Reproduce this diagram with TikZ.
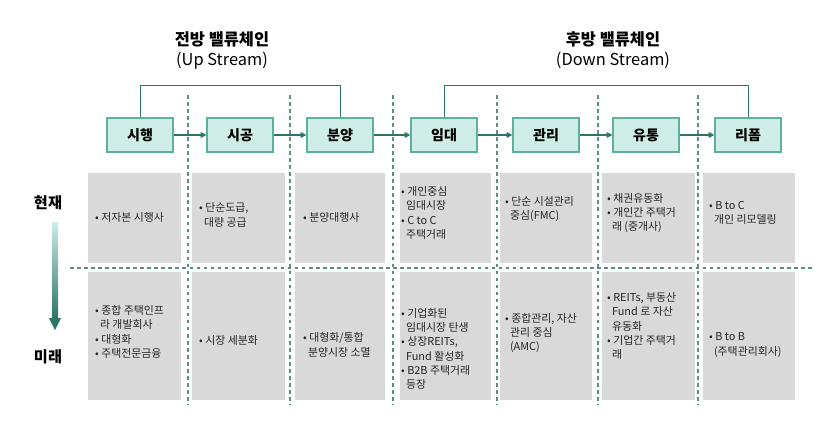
\documentclass[tikz,border=0pt]{standalone}
\usepackage{fontspec}
\setmainfont{Noto Sans CJK KR}
\usetikzlibrary{arrows.meta}
\definecolor{hdrfill}{HTML}{CDEDE6}
\definecolor{hdrdraw}{HTML}{5FAF9F}
\definecolor{grayfill}{HTML}{D9D9D9}
\definecolor{dline}{HTML}{5E8F86}
\definecolor{conn}{HTML}{2E7566}
\tikzset{
 hdr/.style={draw=hdrdraw,line width=1pt,fill=hdrfill,minimum width=66*0.03cm,minimum height=34*0.03cm,font=\fontsize{12}{14}\selectfont\bfseries,inner sep=0pt},
 txt/.style={font=\fontsize{9.3}{12.2}\selectfont,align=left,text=black!85},
 dl/.style={draw=dline,dashed,line width=1pt},
 arr/.style={draw=conn,line width=1pt,-{Triangle[length=5pt,width=5pt]}},
 br/.style={draw=conn,line width=0.8pt},
 ttl/.style={font=\fontsize{14}{17}\selectfont\bfseries,align=center},
}
\begin{document}
\begin{tikzpicture}[x=0.03cm,y=-0.03cm]
\useasboundingbox (0,0) rectangle (821,421);
% titles
\node[ttl] (t1) at (222,50) {전방 밸류체인\\\mdseries(Up Stream)};
\node[ttl] (t2) at (613,50) {후방 밸류체인\\\mdseries(Down Stream)};
% gray cells
\foreach \x/\w in {88/93,192/93,295/90,400/91,500/92,602/93,703/92}{
 \fill[grayfill] (\x,173) rectangle ++(\w,90);
 \fill[grayfill] (\x,272) rectangle ++(\w,128);
}
% dashed lines
\foreach \x in {188,290,393,497,598,698}{\draw[dl] (\x,95) -- (\x,405);}
\draw[dl] (70,268) -- (812,268);
% headers
\node[hdr] (h1) at (140,135) {시행};
\node[hdr] (h2) at (240,135) {시공};
\node[hdr] (h3) at (340,135) {분양};
\node[hdr] (h4) at (444,135) {임대};
\node[hdr] (h5) at (546,135) {관리};
\node[hdr] (h6) at (646,135) {유통};
\node[hdr] (h7) at (748,135) {리폼};
\foreach \a/\b in {h1/h2,h2/h3,h3/h4,h4/h5,h5/h6,h6/h7}{\draw[arr] (\a.east) -- (\b.west);}
% brackets
\coordinate (b1) at (140,85); \coordinate (b2) at (340,85);
\draw[br] (h1.north) -- (b1) -- (b2) -- (h3.north);
\coordinate (b3) at (444,85); \coordinate (b4) at (748,85);
\draw[br] (h4.north) -- (b3) -- (b4) -- (h7.north);
% row labels
\node[font=\fontsize{13}{15}\selectfont\bfseries] (now) at (48,203) {현재};
\node[font=\fontsize{13}{15}\selectfont\bfseries] (fut) at (48,357) {미래};
\shade[top color=hdrfill,bottom color=conn] (52,222) rectangle (58,318);
\coordinate (ar) at (55,330);
\fill[conn] (49,318) -- (61,318) -- (ar) -- cycle;
% row 1 text
\node[txt,anchor=west] (c11) at (91,217) {• 저자본 시행사};
\node[txt,anchor=west] (c12) at (195,215) {• 단순도급,\\\ \ 대량 공급};
\node[txt,anchor=west] (c13) at (299,217) {• 분양대행사};
\node[txt,anchor=west] (c14) at (397,213) {• 개인중심\\\ \ 임대시장\\• C to C\\\ \ 주택거래};
\node[txt,anchor=west] (c15) at (501,209) {• 단순 시설관리\\\ \ 중심(FMC)};
\node[txt,anchor=west] (c16) at (603,213) {• 채권유동화\\• 개인간 주택거\\\ \ 래 (중개사)};
\node[txt,anchor=west] (c17) at (705,213) {• B to C\\\ \ 개인 리모델링};
% row 2 text
\node[txt,anchor=west] (c21) at (91,332) {• 종합 주택인프\\\ \ 라 개발회사\\• 대형화\\• 주택전문금융};
\node[txt,anchor=west] (c22) at (195,340) {• 시장 세분화};
\node[txt,anchor=west] (c23) at (299,345) {• 대형화/통합\\\ \ 분양시장 소멸};
\node[txt,anchor=west] (c24) at (397,349) {• 기업화된\\\ \ 임대시장 탄생\\• 상장REITs,\\\ \ Fund 활성화\\• B2B 주택거래\\\ \ 등장};
\node[txt,anchor=west] (c25) at (501,333) {• 종합관리, 자산\\\ \ 관리 중심\\\ \ (AMC)};
\node[txt,anchor=west] (c26) at (603,326) {• REITs, 부동산\\\ \ Fund 로 자산\\\ \ 유동화\\• 기업간 주택거\\\ \ 래};
\node[txt,anchor=west] (c27) at (705,345) {• B to B\\\ \ (주택관리회사)};
\end{tikzpicture}
\end{document}
